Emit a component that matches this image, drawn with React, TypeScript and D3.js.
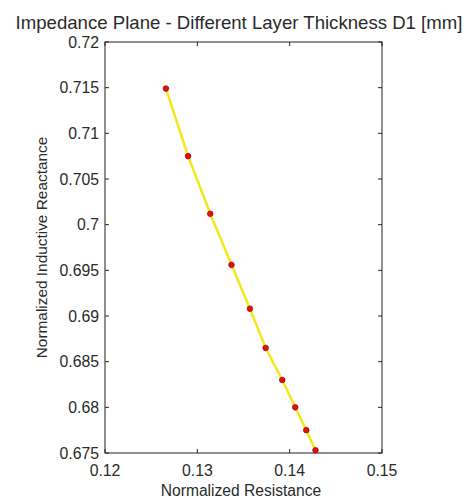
import React from "react";
import * as d3 from "d3";

const resistance = [0.1266, 0.1290, 0.1314, 0.1337, 0.1357, 0.1374, 0.1392, 0.1406, 0.1418, 0.1428];
const reactance = [0.7149, 0.7075, 0.7012, 0.6956, 0.6908, 0.6865, 0.6830, 0.6800, 0.6775, 0.6753];
const xTicks = [0.12, 0.13, 0.14, 0.15];
const yTicks = [0.675, 0.68, 0.685, 0.69, 0.695, 0.7, 0.705, 0.71, 0.715, 0.72];
const title = "Impedance Plane - Different Layer Thickness D1 [mm]";
const xLabel = "Normalized Resistance";
const yLabel = "Normalized Inductive Reactance";

export default function App() {
  const W = 473, H = 500;
  const left = 105, right = 382, top = 42, bottom = 453;
  const x = d3.scaleLinear().domain([0.12, 0.15]).range([left, right]);
  const y = d3.scaleLinear().domain([0.675, 0.72]).range([bottom, top]);
  const pts = resistance.map((r, i) => [r, reactance[i]] as [number, number]);
  const line = d3.line<[number, number]>().x(d => x(d[0])).y(d => y(d[1]));
  const font = "'Liberation Sans', Arial, sans-serif";
  const tc = "#2a2a2a";
  const fmt = (v: number) => String(+v.toFixed(3));
  return (
    <svg width={W} height={H} style={{ position: "absolute", left: 0, top: 0, background: "#fff" }} fontFamily={font}>
      <rect x={0} y={0} width={W} height={H} fill="#fff" />
      <text x={239} y={29} textAnchor="middle" fontSize={18.6} fill={tc}>{title}</text>
      <rect x={left} y={top} width={right - left} height={bottom - top} fill="none" stroke="#222" strokeWidth={1} />
      {xTicks.map(t => (
        <g key={"x" + t}>
          <line x1={x(t)} x2={x(t)} y1={bottom} y2={bottom - 4} stroke="#222" />
          <line x1={x(t)} x2={x(t)} y1={top} y2={top + 4} stroke="#222" />
          <text x={x(t)} y={bottom + 23} textAnchor="middle" fontSize={15.8} fill={tc}>{fmt(t)}</text>
        </g>
      ))}
      {yTicks.map(t => (
        <g key={"y" + t}>
          <line x1={left} x2={left + 4} y1={y(t)} y2={y(t)} stroke="#222" />
          <line x1={right} x2={right - 4} y1={y(t)} y2={y(t)} stroke="#222" />
          <text x={left - 6} y={y(t) + 5.7} textAnchor="end" fontSize={15.8} fill={tc}>{fmt(t)}</text>
        </g>
      ))}
      <text x={241} y={496} textAnchor="middle" fontSize={15.6} fill={tc}>{xLabel}</text>
      <text transform={`translate(47,${(top + bottom) / 2}) rotate(-90)`} textAnchor="middle" fontSize={15.4} fill={tc}>{yLabel}</text>
      <path d={line(pts) || ""} fill="none" stroke="#f2e81c" strokeWidth={2.5} />
      {pts.map((p, i) => (
        <circle key={i} cx={x(p[0])} cy={y(p[1])} r={2.8} fill="#e01010" stroke="#a01010" strokeWidth={0.8} />
      ))}
    </svg>
  );
}
